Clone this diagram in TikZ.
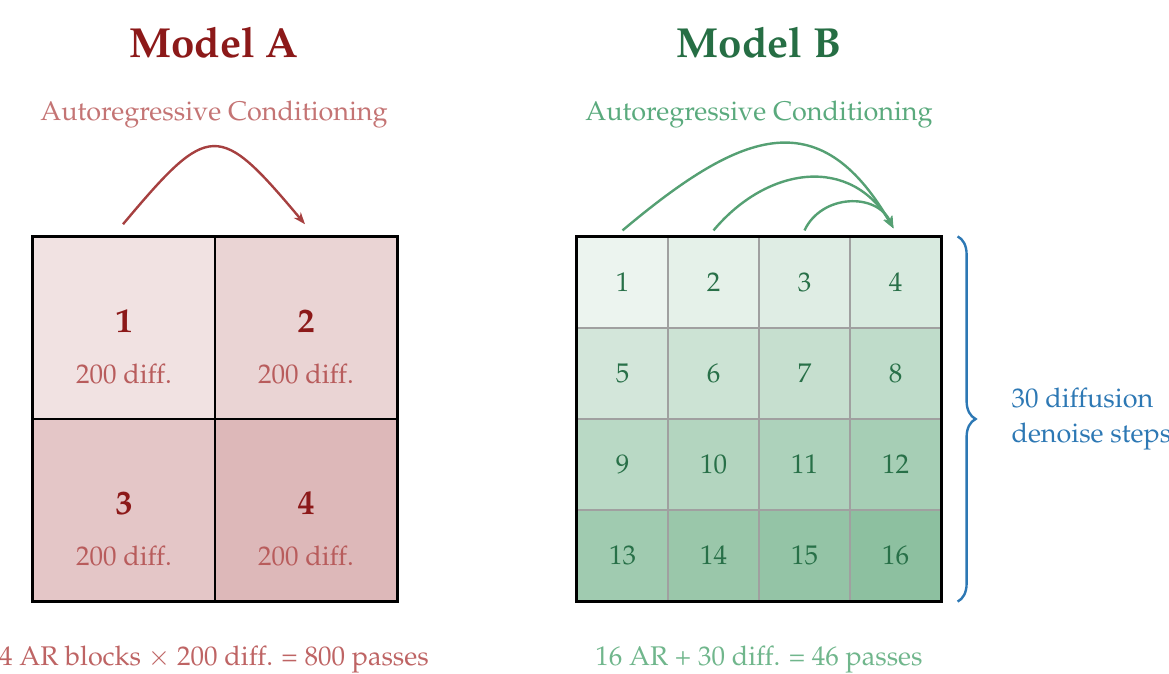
\documentclass[tikz,border=0pt]{standalone}
\usepackage[T1]{fontenc}
\usepackage{mathpazo}
\usetikzlibrary{arrows.meta,decorations.pathreplacing}
\definecolor{redtitle}{RGB}{140,25,25}
\definecolor{redsub}{RGB}{196,116,116}
\definecolor{reddiff}{RGB}{184,92,92}
\definecolor{redarrow}{RGB}{166,64,64}
\definecolor{redbottom}{RGB}{190,100,100}
\definecolor{redcell}{RGB}{221,184,185}
\definecolor{greentitle}{RGB}{38,110,68}
\definecolor{greennum}{RGB}{40,112,72}
\definecolor{greensub}{RGB}{90,170,125}
\definecolor{greenarrow}{RGB}{85,160,115}
\definecolor{greenbottom}{RGB}{112,182,140}
\definecolor{greencell}{RGB}{141,192,160}
\definecolor{gridgray}{RGB}{160,160,160}
\definecolor{braceblue}{RGB}{45,120,180}
\begin{document}
\begin{tikzpicture}[x=1pt,y=1pt,
  title/.style={anchor=base,font=\fontsize{42}{50}\selectfont\bfseries},
  sub/.style={anchor=base,font=\fontsize{27}{34}\selectfont},
  cellA/.style={draw=black,line width=1.5pt,minimum size=182pt,inner sep=0pt},
  cellB/.style={draw=gridgray,line width=1.2pt,minimum size=91pt,inner sep=0pt,
    text=greennum,font=\fontsize{27}{32}\selectfont},
  numA/.style={anchor=base,text=redtitle,font=\fontsize{34}{40}\selectfont\bfseries},
  diffA/.style={anchor=base,text=reddiff,font=\fontsize{27}{32}\selectfont},
  arA/.style={draw=redarrow,line width=2.4pt,-{Stealth[length=12pt,width=9pt]}},
  arB/.style={draw=greenarrow,line width=2.4pt,-{Stealth[length=12pt,width=9pt]}}
]
\useasboundingbox (0,0) rectangle (1169,673);
% model A
\node[title,text=redtitle] (titleA) at (214,615) {Model A};
\node[sub,text=redsub] (subA) at (214,552) {Autoregressive Conditioning};
\node[cellA,fill=redcell!41] (a1) at (124,345) {};
\node[cellA,fill=redcell!61] (a2) at (306,345) {};
\node[cellA,fill=redcell!80] (a3) at (124,163) {};
\node[cellA,fill=redcell] (a4) at (306,163) {};
\draw[line width=3pt] (a1.north west) rectangle (a4.south east);
\node[numA] (n1) at (124,341) {1};
\node[diffA] (d1) at (124,290) {200 diff.};
\node[numA] (n2) at (306,341) {2};
\node[diffA] (d2) at (306,290) {200 diff.};
\node[numA] (n3) at (124,159) {3};
\node[diffA] (d3) at (124,108) {200 diff.};
\node[numA] (n4) at (306,159) {4};
\node[diffA] (d4) at (306,108) {200 diff.};
\coordinate (a1top) at ([xshift=-1,yshift=12]a1.north);
\coordinate (a2top) at ([xshift=-1,yshift=12]a2.north);
\node[sub,text=redbottom] (sumA) at (214,8) {4 AR blocks $\times$ 200 diff. = 800 passes};
% model B
\node[title,text=greentitle] (titleB) at (759,615) {Model B};
\node[sub,text=greensub] (subB) at (759,552) {Autoregressive Conditioning};
\node[cellB,fill=greencell!17] (b1) at (622.5,390.5) {1};
\node[cellB,fill=greencell!23] (b2) at (713.5,390.5) {2};
\node[cellB,fill=greencell!28] (b3) at (804.5,390.5) {3};
\node[cellB,fill=greencell!34] (b4) at (895.5,390.5) {4};
\node[cellB,fill=greencell!39] (b5) at (622.5,299.5) {5};
\node[cellB,fill=greencell!45] (b6) at (713.5,299.5) {6};
\node[cellB,fill=greencell!50] (b7) at (804.5,299.5) {7};
\node[cellB,fill=greencell!56] (b8) at (895.5,299.5) {8};
\node[cellB,fill=greencell!61] (b9) at (622.5,208.5) {9};
\node[cellB,fill=greencell!67] (b10) at (713.5,208.5) {10};
\node[cellB,fill=greencell!72] (b11) at (804.5,208.5) {11};
\node[cellB,fill=greencell!78] (b12) at (895.5,208.5) {12};
\node[cellB,fill=greencell!83] (b13) at (622.5,117.5) {13};
\node[cellB,fill=greencell!89] (b14) at (713.5,117.5) {14};
\node[cellB,fill=greencell!94] (b15) at (804.5,117.5) {15};
\node[cellB,fill=greencell] (b16) at (895.5,117.5) {16};
\draw[line width=3pt] (b1.north west) rectangle (b16.south east);
\coordinate (b1top) at ([yshift=6]b1.north);
\coordinate (b2top) at ([yshift=6]b2.north);
\coordinate (b3top) at ([yshift=6]b3.north);
\coordinate (b4top) at ([xshift=-2,yshift=8]b4.north);
\draw[braceblue,line width=2.4pt,decorate,decoration={brace,amplitude=18pt}]
  ([xshift=16]b4.north east) -- ([xshift=16]b16.south east);
\node[anchor=base west,align=left,text=braceblue,font=\fontsize{27}{35}\selectfont]
  (steps) at (1008,231) {30 diffusion\\denoise steps};
\node[sub,text=greenbottom] (sumB) at (759,8) {16 AR + 30 diff. = 46 passes};
\path
  (a1top) edge[arA,out=50,in=130,looseness=1.9] (a2top)
  (b1top) edge[arB,out=40,in=120,looseness=1.42] (b4top)
  (b2top) edge[arB,out=50,in=120,looseness=1.2] (b4top)
  (b3top) edge[arB,out=65,in=115,looseness=1.15] (b4top)
;
\end{tikzpicture}
\end{document}
